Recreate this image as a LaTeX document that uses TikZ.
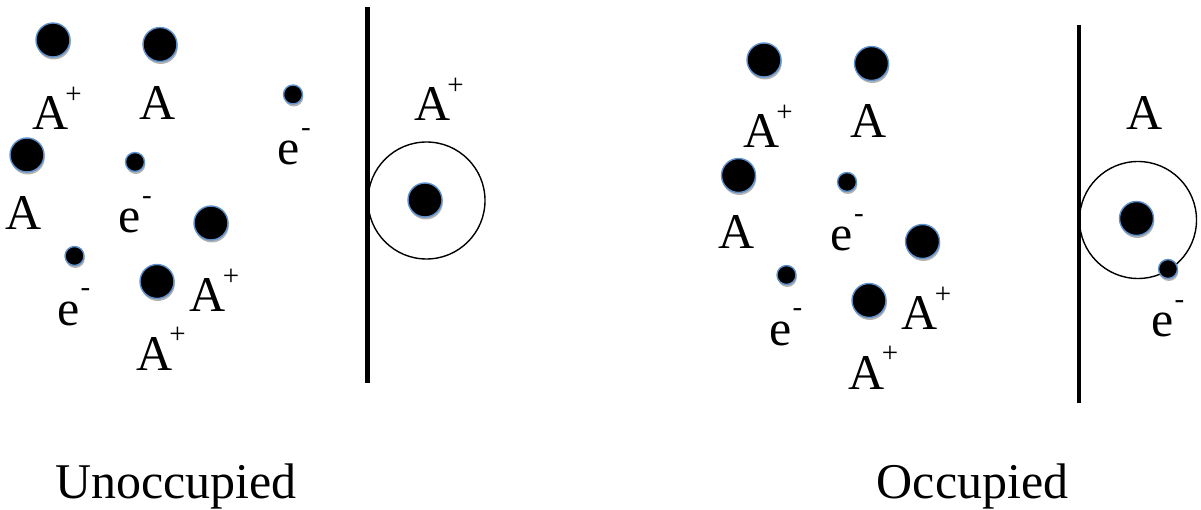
\documentclass[tikz,border=0pt]{standalone}
\usepackage{fontspec}
\setmainfont{Liberation Serif}
\usetikzlibrary{shadows}
\definecolor{dotblue}{RGB}{95,145,205}
\newcommand{\ionplus}{A\rlap{\kern-3.2pt\raisebox{26.7pt}{\fontsize{29}{32}\selectfont +}}}
\newcommand{\elecminus}{e\rlap{\kern1.1pt\raisebox{28.5pt}{\fontsize{29}{32}\selectfont -}}}
\begin{document}
\begin{tikzpicture}[x=1pt,y=-1pt,
  dotbase/.style={circle,fill=black,draw=dotblue,line width=1.4pt,inner sep=0pt,
    drop shadow={shadow xshift=0.8pt,shadow yshift=-2.5pt,opacity=0.3,fill=black}},
  bigdot/.style={dotbase,minimum size=34pt},
  smalldot/.style={dotbase,minimum size=19pt},
  ring/.style={circle,draw=black,line width=1.4pt,inner sep=0pt,minimum size=117pt},
  wall/.style={line width=4.5pt,draw=black},
  lbl/.style={inner sep=0pt,anchor=base,font=\fontsize{50}{60}\selectfont},
  caption/.style={inner sep=0pt,anchor=base,font=\fontsize{50}{60}\selectfont}]
\useasboundingbox (0,0) rectangle (1201,510);

% ---------- left panel ----------
\node[bigdot] (L1) at (53,40) {};
\node[bigdot] (L2) at (160,44.5) {};
\node[bigdot] (L3) at (27,155) {};
\node[smalldot] (L4) at (135,162) {};
\node[smalldot] (L5) at (293,94.5) {};
\node[bigdot] (L6) at (211,223) {};
\node[smalldot] (L7) at (74.5,256) {};
\node[bigdot] (L8) at (157,281.5) {};

\node[lbl] (la1) at (50.5,130) {\ionplus};
\node[lbl] (la2) at (157.5,120) {A};
\node[lbl] (la3) at (24,230) {A};
\node[lbl] (le1) at (130,233) {\elecminus};
\node[lbl] (le2) at (289,165) {\elecminus};
\node[lbl] (la4) at (208,312) {\ionplus};
\node[lbl] (le3) at (68.5,325) {\elecminus};
\node[lbl] (la5) at (154.5,370) {\ionplus};

\coordinate (w1t) at (367.5,7);
\coordinate (w1b) at (367.5,383);
\draw[wall] (w1t) -- (w1b);
\node[ring] (R1) at (426.5,200.5) {};
\node[bigdot] (L9) at (425,200) {};
\node[lbl] (la6) at (432.5,121) {\ionplus};

\node[caption] (cap1) at (176,498) {Unoccupied};

% ---------- right panel ----------
\node[bigdot] (R2) at (764,60) {};
\node[bigdot] (R3) at (871.5,63.5) {};
\node[bigdot] (R4) at (738.5,175.5) {};
\node[smalldot] (R5) at (847,182) {};
\node[bigdot] (R6) at (922.5,241.5) {};
\node[smalldot] (R7) at (786.5,275) {};
\node[bigdot] (R8) at (869,300.5) {};

\node[lbl] (ra1) at (761.5,148) {\ionplus};
\node[lbl] (ra2) at (868.5,138) {A};
\node[lbl] (ra3) at (736.5,249) {A};
\node[lbl] (re1) at (842,251) {\elecminus};
\node[lbl] (ra4) at (920,330) {\ionplus};
\node[lbl] (re2) at (780.5,345) {\elecminus};
\node[lbl] (ra5) at (867,389) {\ionplus};

\coordinate (w2t) at (1079,25);
\coordinate (w2b) at (1079,403);
\draw[wall] (w2t) -- (w2b);
\node[ring] (R9) at (1138,220) {};
\node[bigdot] (R10) at (1136.5,218.5) {};
\node[smalldot] (R11) at (1168,269) {};
\node[lbl] (ra6) at (1144.5,130) {A};
\node[lbl] (re3) at (1162.5,337) {\elecminus};

\node[caption] (cap2) at (972.5,498) {Occupied};
\end{tikzpicture}
\end{document}
